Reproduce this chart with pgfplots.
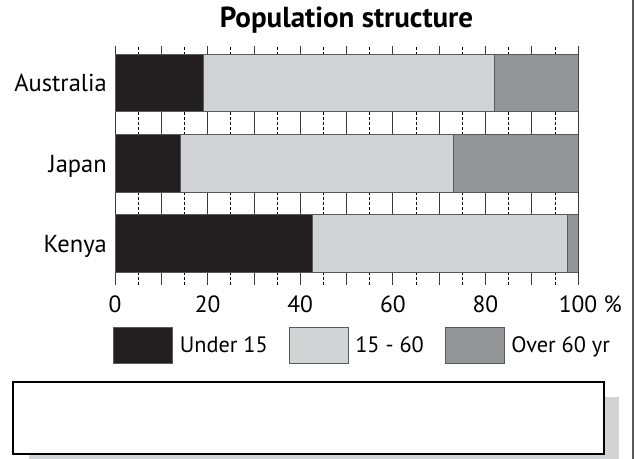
\documentclass[border=0pt]{standalone}
\usepackage{pgfplots}
\pgfplotsset{compat=1.18}
\usepackage{fontspec}
\setmainfont{PT Sans}
\definecolor{cblack}{HTML}{231F20}
\definecolor{clight}{HTML}{D1D3D4}
\definecolor{cmid}{HTML}{939598}
\definecolor{cedge}{HTML}{58595B}
\definecolor{cgrid}{HTML}{3A3A3C}
\definecolor{cshadow}{HTML}{D1D3D4}
\begin{document}
\begin{tikzpicture}[x=1bp,y=1bp]
\path[use as bounding box] (0,0) rectangle (635,459);
% page decoration
\fill[cshadow] (29,-10) rectangle (619,62);
\draw[black, line width=1.6bp, fill=white] (13,5) rectangle (604,77);
\draw[cedge, line width=2.2bp] (633,0) -- (633,459);
\begin{axis}[
  at={(115bp,174bp)}, anchor=south west,
  width=463bp, height=239bp, scale only axis,
  xbar stacked, bar width=0.72,
  xmin=0, xmax=100, ymin=-0.52, ymax=2.46,
  ytick={0,1,2}, yticklabels={Kenya,Japan,Australia},
  xtick={0,10,...,100},
  xticklabels={0,,20,,40,,60,,80,,100\rlap{ \%}},
  minor x tick num=1,
  xmajorgrids, xminorgrids,
  major grid style={draw=cgrid, line width=0.8bp},
  minor grid style={draw=black, line width=0.6bp, dash pattern=on 3bp off 2bp},
  major tick length=0pt, minor tick length=0pt,
  axis line style={draw=none},
  /pgf/number format/assume math mode=true,
  xticklabel style={font=\fontsize{23.5bp}{27bp}\selectfont, inner sep=0pt, anchor=north, yshift=-11bp},
  yticklabel style={font=\fontsize{24.5bp}{28bp}\selectfont, inner sep=0pt, anchor=base east, xshift=-8bp, yshift=-9bp},
  title={\bfseries Population structure},
  title style={font=\fontsize{29bp}{33bp}\selectfont, at={(0.5,1)}, anchor=base, yshift=13bp},
  legend columns=3,
  legend style={draw=none, fill=none, inner sep=0pt, at={(axis description cs:-0.0043,-0.251)}, anchor=west,
    font=\fontsize{22.3bp}{26bp}\selectfont,
    nodes={inner sep=0pt},
    /tikz/every odd column/.append style={column sep=7bp},
    /tikz/every even column/.append style={column sep=21bp}},
]
\addplot[fill=cblack, draw=cedge, line width=0.6bp, forget plot] coordinates {(42.6,0) (14,1) (19,2)};
\addplot[fill=clight, draw=cedge, line width=0.6bp, forget plot] coordinates {(55.1,0) (59,1) (63,2)};
\addplot[fill=cmid, draw=cedge, line width=0.6bp, forget plot] coordinates {(2.3,0) (27,1) (18,2)};
\addlegendimage{legend image code/.code={\draw[fill=cblack, draw=cedge, line width=0.6bp] (0bp,-18bp) rectangle (59bp,18bp);}}
\addlegendentry{Under 15}
\addlegendimage{legend image code/.code={\draw[fill=clight, draw=cedge, line width=0.6bp] (0bp,-18bp) rectangle (59bp,18bp);}}
\addlegendentry{15 - 60}
\addlegendimage{legend image code/.code={\draw[fill=cmid, draw=cedge, line width=0.6bp] (0bp,-18bp) rectangle (59bp,18bp);}}
\addlegendentry{Over 60 yr}
\end{axis}
\end{tikzpicture}
\end{document}
